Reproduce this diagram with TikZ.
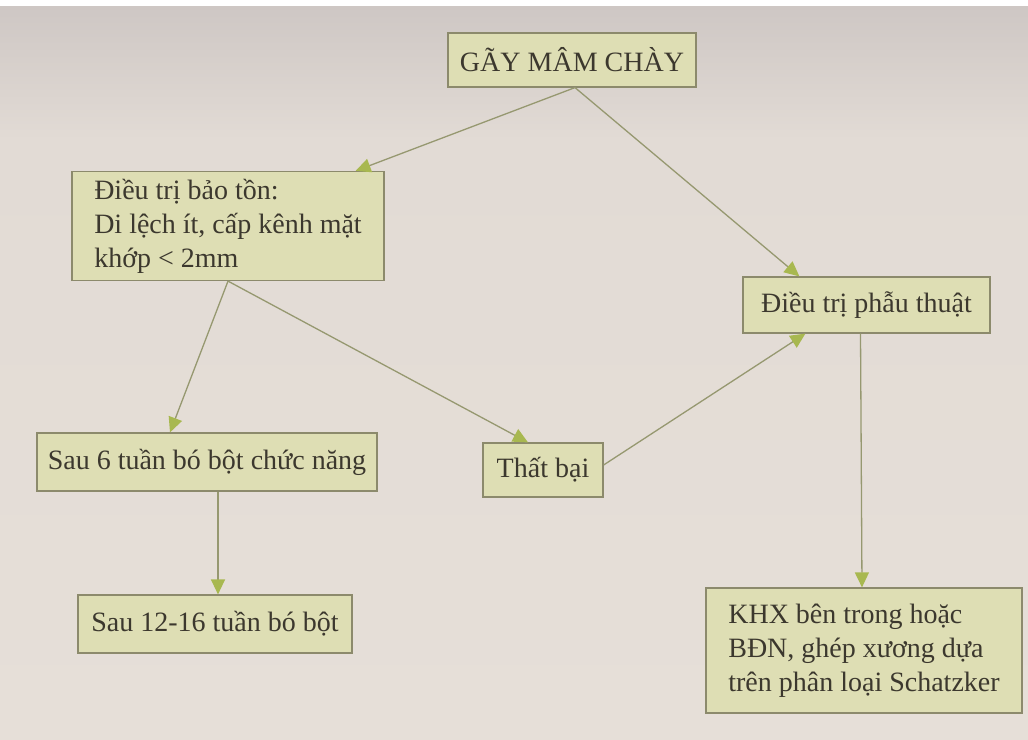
\documentclass[tikz,border=0pt]{standalone}
\usepackage{fontspec}
\setmainfont{Liberation Serif}
\usetikzlibrary{arrows.meta,calc}
\definecolor{pagetop}{RGB}{206,199,196}
\definecolor{pagemid}{RGB}{226,219,213}
\definecolor{pagebot}{RGB}{230,223,216}
\definecolor{boxfill}{RGB}{222,222,180}
\definecolor{boxline}{RGB}{140,138,108}
\definecolor{linkline}{RGB}{150,152,112}
\definecolor{tipfill}{RGB}{168,184,80}
\definecolor{inkc}{RGB}{60,56,46}
\begin{document}
\begin{tikzpicture}[x=1pt,y=-1pt,
  box/.style={draw=boxline,line width=1.2pt,fill=boxfill,text=inkc,
    font=\fontsize{28}{34}\selectfont,inner sep=0pt,align=left},
  link/.style={draw=linkline,line width=1.3pt,
    -{Triangle[length=15pt,width=14pt,fill=tipfill,color=tipfill]}}]
  % page
  \useasboundingbox (0,0) rectangle (1028,739);
  \fill[pagebot] (0,0) rectangle (1028,739);
  \shade[top color=pagetop,bottom color=pagemid] (0,6) rectangle (1028,140);
  \shade[top color=pagemid,bottom color=pagebot] (0,140) rectangle (1028,739);
  \fill[white] (0,0) rectangle (1028,6);
  % boxes
  \node[box,minimum width=248pt,minimum height=54pt] (root) at (572,60) {GÃY MÂM CHÀY};
  \node[box,minimum width=312pt,minimum height=109pt] (cons) at (228,226)
    {Điều trị bảo tồn:\\Di lệch ít, cấp kênh mặt\\khớp < 2mm};
  \node[box,minimum width=247pt,minimum height=56pt] (surg) at (866.5,305) {Điều trị phẫu thuật};
  \node[box,minimum width=340pt,minimum height=58pt] (six) at (207,462) {Sau 6 tuần bó bột chức năng};
  \node[box,minimum width=120pt,minimum height=54pt] (fail) at (543,470) {Thất bại};
  \node[box,minimum width=274pt,minimum height=58pt] (twelve) at (215,624) {Sau 12-16 tuần bó bột};
  \node[box,minimum width=316pt,minimum height=125pt] (fix) at (864,650.5)
    {KHX bên trong hoặc\\BĐN, ghép xương dựa\\trên phân loại Schatzker};
  % connectors
  \draw[link] ($(root.south)+(3,0)$) -- ($(cons.north east)+(-29,0)$);
  \draw[link] ($(root.south)+(3,0)$) -- ($(surg.north west)+(57,0)$);
  \draw[link] (cons.south) -- ($(six.north)+(-37,0)$);
  \draw[link] (cons.south) -- ($(fail.north)+(-15,0)$);
  \draw[link] ($(fail.east)+(0,-5)$) -- ($(surg.south west)+(63,0)$);
  \draw[link] ($(six.south)+(11,0)$) -- ($(twelve.north)+(3,0)$);
  \draw[link] ($(surg.south)+(-6,0)$) -- ($(fix.north)+(-2,0)$);
\end{tikzpicture}
\end{document}
